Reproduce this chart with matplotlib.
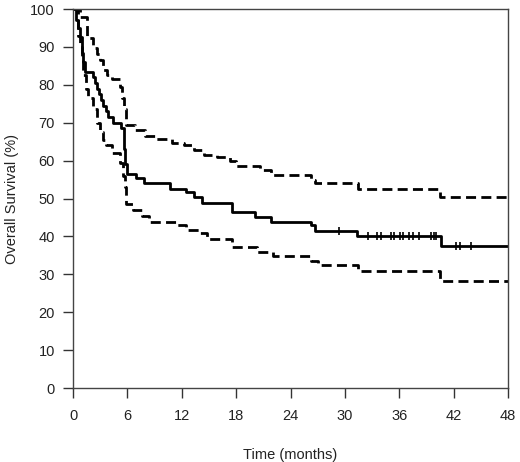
import matplotlib
matplotlib.use("Agg")
import matplotlib.pyplot as plt
import numpy as np

# Kaplan-Meier estimate (months, % surviving)
km_t = [0, 0.3, 0.55, 0.75, 0.95, 1.1, 1.3, 2.2, 2.4, 2.7, 2.9, 3.1, 3.3, 3.6, 3.9,
        4.45, 5.3, 5.6, 5.75, 5.95, 7.0, 7.8, 10.7, 12.5, 13.3, 14.2, 17.5, 20.1,
        21.9, 26.3, 26.7, 31.3, 40.6, 48]
km_s = [100, 97, 95, 92.5, 88.5, 86, 83.5, 82, 80.5, 79, 77.5, 76, 74.5, 73, 71.5,
        70, 68.5, 63, 59, 56.6, 55.5, 54, 52.5, 51.7, 50.5, 48.7, 46.5, 45.2,
        43.9, 42.9, 41.5, 40.2, 37.5, 37.5]

# upper 95% CI
up_t = [0, 0.8, 1.5, 2.2, 2.6, 3.0, 3.3, 3.8, 4.3, 5.2, 5.4, 5.6, 5.9, 6.8, 7.9,
        9.2, 10.9, 12.2, 13.3, 14.4, 15.9, 17.3, 18.0, 20.6, 21.9, 26.3, 26.7,
        31.5, 40.5, 48]
up_s = [100, 98, 92.3, 89.7, 88, 86.5, 84, 82.5, 81.5, 79.5, 76.5, 73.5, 69.4, 68,
        66.5, 65.6, 64.6, 64, 62.8, 61.6, 61, 60, 58.6, 57.5, 56.2, 55, 54,
        52.4, 50.5, 50.5]

# lower 95% CI
lo_t = [0, 0.5, 0.75, 0.95, 1.1, 1.4, 1.7, 2.2, 2.6, 3.0, 3.3, 3.6, 4.3, 5.2, 5.5,
        5.7, 5.9, 6.6, 7.6, 8.4, 11.4, 12.5, 14.0, 14.8, 17.5, 20.3, 22.1, 26.3,
        27.0, 31.4, 40.5, 48]
lo_s = [100, 93, 90, 87, 82.5, 79, 76.5, 73.5, 70, 67.5, 65.5, 64, 62, 59.5, 56,
        53, 48.5, 47, 45.5, 43.9, 43, 41.7, 40.8, 39.2, 37.3, 36, 34.8, 33.5,
        32.5, 31, 28.2, 28.2]

# censored observations
cens_t = [29.3, 32.6, 33.5, 34.0, 35.1, 35.4, 36.1, 36.4, 37.1, 37.5, 38.2,
          39.5, 39.8, 40.1, 42.3, 42.7, 43.9]

x_ticks = [0, 6, 12, 18, 24, 30, 36, 42, 48]
y_ticks = [0, 10, 20, 30, 40, 50, 60, 70, 80, 90, 100]

plt.rcParams['font.family'] = ['Liberation Sans', 'DejaVu Sans']

fig = plt.figure(figsize=(5.2, 4.62), dpi=100)
ax = fig.add_axes([0.1404, 0.160, 0.8366, 0.8205])

ax.step(km_t, km_s, where='post', color='black', lw=2.0)
ax.step(up_t, up_s, where='post', color='black', lw=2.0, ls=(0, (3.6, 1.9)))
ax.step(lo_t, lo_s, where='post', color='black', lw=2.0, ls=(0, (3.6, 1.9)))

idx = np.searchsorted(km_t, cens_t, side='right') - 1
cens_s = np.array(km_s)[idx]
ax.plot(cens_t, cens_s, ls='none', marker='|', ms=6, mew=1.2, color='black')

ax.set_xlim(0, 48)
ax.set_ylim(0, 100)
ax.set_xticks(x_ticks)
ax.set_yticks(y_ticks)
ax.tick_params(direction='out', length=7, width=1, color='#333333',
               labelsize=10.5, labelcolor='#222222')
ax.tick_params(axis='x', pad=8)
ax.tick_params(axis='y', pad=6)
for sp in ax.spines.values():
    sp.set_color('#444444')
    sp.set_linewidth(1.0)

ax.set_xlabel('Time (months)', fontsize=10.5, color='#222222', labelpad=18)
ax.set_ylabel('Overall Survival (%)', fontsize=10.5, color='#222222', labelpad=8)

plt.savefig('out.png', dpi=100)
